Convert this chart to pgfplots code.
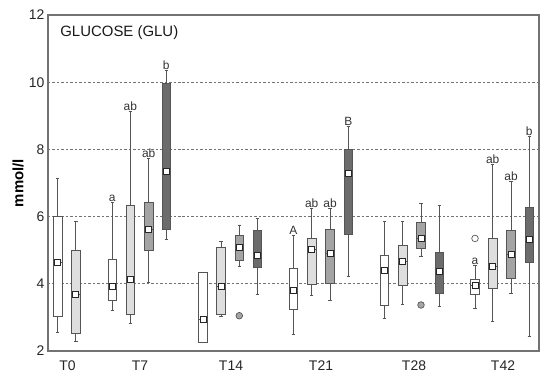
\documentclass[border=0pt]{standalone}
\usepackage{fontspec}
\setmainfont{Liberation Sans}
\usepackage{pgfplots}
\pgfplotsset{compat=1.18}
\usepgfplotslibrary{statistics}

\definecolor{boxedge}{HTML}{555555}
\definecolor{lgray}{HTML}{DEDEDE}
\definecolor{mgray}{HTML}{A4A4A4}
\definecolor{dgray}{HTML}{6C6C6C}

% position, lower whisker, lower quartile, median, upper quartile, upper whisker, fill
\newcommand{\bx}[7]{%
  \addplot[boxplot prepared={draw direction=y, draw position=#1, lower whisker=#2, lower quartile=#3,
    median=#4, upper quartile=#5, upper whisker=#6, box extend=0.085, whisker extend=0.035},
    draw=boxedge, fill=#7, line width=0.8pt, solid] coordinates {};%
}

\begin{document}
\begin{tikzpicture}
\begin{axis}[
  name=ax,
  scale only axis, width=491bp, height=336bp,
  xmin=0, xmax=4.91, ymin=2, ymax=12,
  ytick={2,4,6,8,10,12},
  xtick={0.195,0.92,1.83,2.73,3.66,4.55},
  xticklabels={T0,T7,T14,T21,T28,T42},
  major tick length=0pt,
  ymajorgrids,
  grid style={dash pattern=on 2.5pt off 2pt, draw=black!55, line width=0.7pt},
  axis line style={draw=black!55, line width=1.2pt},
  tick label style={font=\fontsize{14}{16}\selectfont, text=black!85},
  xticklabel style={yshift=-6bp},
  /pgf/number format/assume math mode=true,
  ylabel={\textbf{mmol/l}},
  ylabel style={at={(axis description cs:0,0.5)}, anchor=center, yshift=30bp,
    font=\fontsize{15}{17}\selectfont},
]
% T0
\bx{0.097}{2.54}{3.02}{4.63}{6.00}{7.14}{white}
\bx{0.278}{2.28}{2.51}{3.67}{4.99}{5.85}{lgray}
% T7
\bx{0.643}{3.22}{3.52}{3.91}{4.74}{6.41}{white}
\bx{0.823}{2.82}{3.09}{4.13}{6.32}{9.12}{lgray}
\bx{1.007}{4.03}{4.98}{5.62}{6.41}{7.73}{mgray}
\bx{1.183}{5.32}{5.62}{7.34}{9.97}{10.36}{dgray}
% T14
\bx{1.550}{2.25}{2.25}{2.95}{4.33}{4.33}{white}
\bx{1.730}{3.04}{3.09}{3.91}{5.07}{5.27}{lgray}
\bx{1.913}{4.53}{4.69}{5.07}{5.45}{5.75}{mgray}
\bx{2.093}{3.69}{4.48}{4.84}{5.58}{5.95}{dgray}
% T21
\bx{2.453}{2.48}{3.24}{3.79}{4.46}{5.45}{white}
\bx{2.637}{3.64}{3.99}{5.03}{5.35}{6.25}{lgray}
\bx{2.820}{3.50}{4.01}{4.91}{5.63}{6.25}{mgray}
\bx{3.003}{4.21}{5.48}{7.27}{8.00}{8.68}{dgray}
% T28
\bx{3.363}{2.97}{3.35}{4.47}{4.84}{5.85}{white}
\bx{3.547}{3.40}{3.94}{4.68}{5.15}{5.85}{lgray}
\bx{3.730}{4.83}{5.04}{5.35}{5.83}{6.38}{mgray}
\bx{3.913}{3.32}{3.72}{4.42}{4.93}{6.32}{dgray}
% T42
\bx{4.270}{3.27}{3.69}{3.96}{4.13}{4.54}{white}
\bx{4.447}{2.87}{3.87}{4.51}{5.35}{7.56}{lgray}
\bx{4.630}{3.72}{4.16}{4.88}{5.60}{7.04}{mgray}
\bx{4.813}{2.43}{4.63}{5.33}{6.28}{8.38}{dgray}

% means
\addplot[only marks, mark=square*, mark size=3bp,
  mark options={fill=white, draw=black!85, line width=0.9pt, solid}] coordinates {
 (0.097,4.63) (0.278,3.67)
 (0.643,3.91) (0.823,4.13) (1.007,5.62) (1.183,7.34)
 (1.550,2.95) (1.730,3.91) (1.913,5.07) (2.093,4.84)
 (2.453,3.79) (2.637,5.03) (2.820,4.91) (3.003,7.27)
 (3.363,4.39) (3.547,4.68) (3.730,5.35) (3.913,4.36)
 (4.270,3.96) (4.447,4.51) (4.630,4.88) (4.813,5.33)
};
% outliers
\addplot[only marks, mark=*, mark size=3.3bp,
  mark options={fill=mgray, draw=boxedge, line width=0.7pt, solid}] coordinates {
 (1.913,3.05) (3.730,3.37)
};
\addplot[only marks, mark=o, mark size=3.3bp,
  mark options={draw=boxedge, line width=0.7pt, solid}] coordinates {
 (4.270,5.35)
};

% letters
\node[anchor=south, inner sep=0.6pt, font=\fontsize{12}{14}\selectfont, text=black!80] at (axis cs:0.643,6.41) {a};
\node[anchor=south, inner sep=0.6pt, font=\fontsize{12}{14}\selectfont, text=black!80] at (axis cs:0.823,9.12) {ab};
\node[anchor=south, inner sep=0.6pt, font=\fontsize{12}{14}\selectfont, text=black!80] at (axis cs:1.007,7.73) {ab};
\node[anchor=south, inner sep=0.6pt, font=\fontsize{12}{14}\selectfont, text=black!80] at (axis cs:1.183,10.36) {b};
\node[anchor=south, inner sep=0.6pt, font=\fontsize{12}{14}\selectfont, text=black!80] at (axis cs:2.453,5.45) {A};
\node[anchor=south, inner sep=0.6pt, font=\fontsize{12}{14}\selectfont, text=black!80] at (axis cs:2.637,6.25) {ab};
\node[anchor=south, inner sep=0.6pt, font=\fontsize{12}{14}\selectfont, text=black!80] at (axis cs:2.820,6.25) {ab};
\node[anchor=south, inner sep=0.6pt, font=\fontsize{12}{14}\selectfont, text=black!80] at (axis cs:3.003,8.68) {B};
\node[anchor=south, inner sep=0.6pt, font=\fontsize{12}{14}\selectfont, text=black!80] at (axis cs:4.270,4.54) {a};
\node[anchor=south, inner sep=0.6pt, font=\fontsize{12}{14}\selectfont, text=black!80] at (axis cs:4.447,7.56) {ab};
\node[anchor=south, inner sep=0.6pt, font=\fontsize{12}{14}\selectfont, text=black!80] at (axis cs:4.630,7.04) {ab};
\node[anchor=south, inner sep=0.6pt, font=\fontsize{12}{14}\selectfont, text=black!80] at (axis cs:4.813,8.38) {b};

\node[anchor=west, font=\fontsize{15}{18}\selectfont, text=black!90] at (rel axis cs:0.018,0.949) {GLUCOSE (GLU)};
\end{axis}
\pgfresetboundingbox
\path[use as bounding box] ([xshift=-48bp,yshift=-28bp]ax.south west) rectangle ([xshift=11bp,yshift=15bp]ax.north east);
\end{tikzpicture}
\end{document}
